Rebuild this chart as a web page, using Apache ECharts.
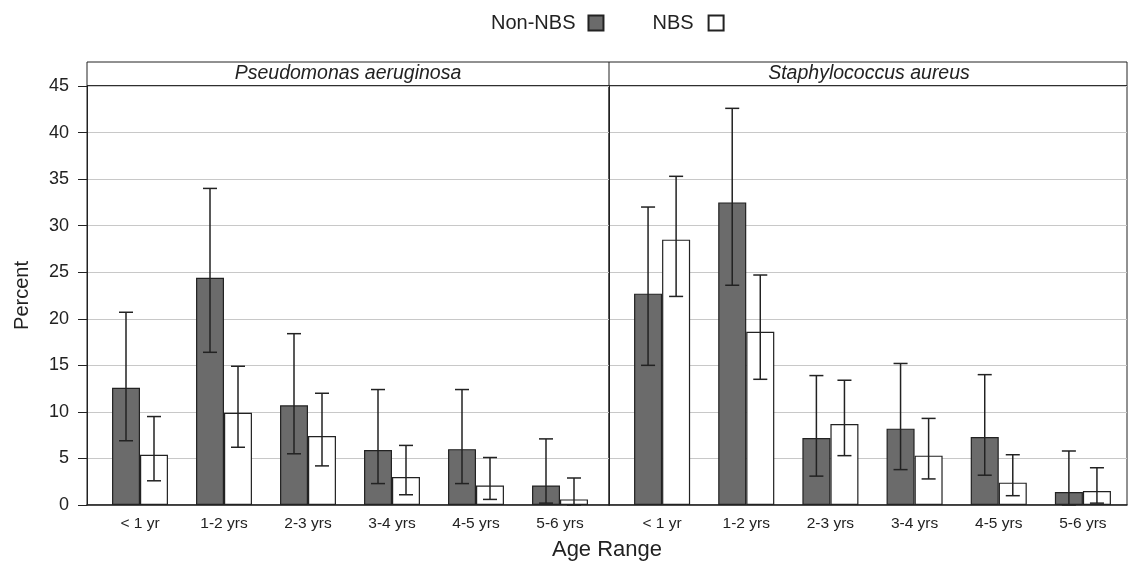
<!DOCTYPE html>
<html>
<head>
<meta charset="utf-8">
<script src="https://cdn.jsdelivr.net/npm/echarts@6/dist/echarts.min.js"></script>
<style>
  html, body { margin: 0; padding: 0; background: #fff; }
  #chart { width: 1130px; height: 565px; }
</style>
</head>
<body>
<div id="chart"></div>
<script>
const ageRanges = ['< 1 yr', '1-2 yrs', '2-3 yrs', '3-4 yrs', '4-5 yrs', '5-6 yrs'];
const panelTitles = ['Pseudomonas aeruginosa', 'Staphylococcus aureus'];

// Pseudomonas aeruginosa
const paNonNbs = [12.6, 24.4, 10.7, 5.9, 6.0, 2.1];
const paNonNbsLow = [6.9, 16.4, 5.5, 2.3, 2.3, 0.2];
const paNonNbsHigh = [20.7, 34.0, 18.4, 12.4, 12.4, 7.1];
const paNbs = [5.4, 9.9, 7.4, 3.0, 2.1, 0.6];
const paNbsLow = [2.6, 6.2, 4.2, 1.1, 0.6, 0];
const paNbsHigh = [9.5, 14.9, 12.0, 6.4, 5.1, 2.9];

// Staphylococcus aureus
const saNonNbs = [22.7, 32.5, 7.2, 8.2, 7.3, 1.4];
const saNonNbsLow = [15.0, 23.6, 3.1, 3.8, 3.2, 0];
const saNonNbsHigh = [32.0, 42.6, 13.9, 15.2, 14.0, 5.8];
const saNbs = [28.5, 18.6, 8.7, 5.3, 2.4, 1.5];
const saNbsLow = [22.4, 13.5, 5.3, 2.8, 1.0, 0.2];
const saNbsHigh = [35.3, 24.7, 13.4, 9.3, 5.4, 4.0];

const FONT = "'Liberation Sans', Arial, sans-serif";
const INK = '#222';
const DARK = '#6b6b6b';

const chart = echarts.init(document.getElementById('chart'));

function errorData(low, high) {
  return low.map((lo, i) => [i, lo, high[i]]);
}

// side: -1 for left bar in pair, +1 for right
function errorRender(side) {
  return function (params, api) {
    const band = api.size([1, 0])[0];
    const lo = api.coord([api.value(0), api.value(1)]);
    const hi = api.coord([api.value(0), api.value(2)]);
    const x = lo[0] + side * band / 6;
    const cap = band / 12;
    const style = { stroke: INK, lineWidth: 1.5 };
    return {
      type: 'group',
      children: [
        { type: 'line', shape: { x1: x, y1: lo[1], x2: x, y2: hi[1] }, style },
        { type: 'line', shape: { x1: x - cap, y1: hi[1], x2: x + cap, y2: hi[1] }, style },
        { type: 'line', shape: { x1: x - cap, y1: lo[1], x2: x + cap, y2: lo[1] }, style }
      ]
    };
  };
}

const frameAxisY = {
  type: 'value', min: 0, max: 45, interval: 5,
  axisLine: { show: true, lineStyle: { color: INK, width: 1 } },
  splitLine: { show: true, lineStyle: { color: '#c8c8c8', width: 1 } }
};

const hiddenY = { type: 'value', min: 0, max: 45, interval: 5, show: false, splitLine: { show: false } };

const barX = {
  type: 'category', data: ageRanges,
  axisLine: { show: false }, axisTick: { show: false },
  axisLabel: { color: INK, fontFamily: FONT, fontSize: 15.5, margin: 11 }
};

const nonNbsStyle = { color: DARK, borderColor: INK, borderWidth: 1.2 };
const nbsStyle = { color: '#fff', borderColor: INK, borderWidth: 1.2 };

const option = {
  animation: false,
  textStyle: { fontFamily: FONT },
  legend: {
    data: [
      { name: 'Non-NBS', textStyle: { padding: [0, 8, 0, 0] } },
      { name: 'NBS', textStyle: { padding: [0, 10, 0, 0] } }
    ],
    top: 8, left: 486,
    align: 'right',
    icon: 'rect',
    itemWidth: 15, itemHeight: 15, itemGap: 48,
    textStyle: { color: INK, fontSize: 20, fontFamily: FONT }
  },
  grid: [
    { left: 87, top: 86, width: 522, height: 419, show: true, borderColor: INK, borderWidth: 1 },
    { left: 609, top: 86, width: 518, height: 419, show: true, borderColor: INK, borderWidth: 1 },
    { left: 98, top: 86, width: 504, height: 419 },
    { left: 620, top: 86, width: 505, height: 419 }
  ],
  xAxis: [
    { gridIndex: 0, type: 'category', data: [], axisLine: { show: true, lineStyle: { color: INK, width: 1.5 } }, axisTick: { show: false }, axisLabel: { show: false } },
    { gridIndex: 1, type: 'category', data: [], axisLine: { show: true, lineStyle: { color: INK, width: 1.5 } }, axisTick: { show: false }, axisLabel: { show: false } },
    Object.assign({ gridIndex: 2 }, barX),
    Object.assign({ gridIndex: 3 }, barX)
  ],
  yAxis: [
    Object.assign({ gridIndex: 0 }, frameAxisY, {
      name: 'Percent', nameLocation: 'middle', nameGap: 55,
      nameTextStyle: { color: INK, fontSize: 20, fontFamily: FONT },
      axisTick: { show: true, inside: false, length: 9, lineStyle: { color: INK } },
      axisLabel: { color: INK, fontSize: 18, fontFamily: FONT, margin: 18 }
    }),
    Object.assign({ gridIndex: 1 }, frameAxisY, { axisTick: { show: false }, axisLabel: { show: false } }),
    Object.assign({ gridIndex: 2 }, hiddenY),
    Object.assign({ gridIndex: 3 }, hiddenY)
  ],
  graphic: [
    { type: 'rect', shape: { x: 87, y: 62, width: 1040, height: 24 }, style: { fill: 'none', stroke: INK, lineWidth: 1 } },
    { type: 'line', shape: { x1: 609, y1: 62, x2: 609, y2: 86 }, style: { stroke: INK, lineWidth: 1 } },
    { type: 'line', shape: { x1: 87, y1: 86, x2: 1127, y2: 86 }, style: { stroke: INK, lineWidth: 1.5 } },
    { type: 'text', x: 348, y: 74, z: 10, style: { text: panelTitles[0], font: 'italic 19.5px ' + FONT, fill: INK, align: 'center', verticalAlign: 'middle' } },
    { type: 'text', x: 869, y: 74, z: 10, style: { text: panelTitles[1], font: 'italic 19.5px ' + FONT, fill: INK, align: 'center', verticalAlign: 'middle' } },
    { type: 'text', x: 607, y: 550, z: 10, style: { text: 'Age Range', font: '22px ' + FONT, fill: INK, align: 'center', verticalAlign: 'middle' } }
  ],
  series: [
    { name: 'Non-NBS', type: 'bar', xAxisIndex: 2, yAxisIndex: 2, data: paNonNbs, barWidth: '33.3%', barGap: '0%', itemStyle: nonNbsStyle },
    { name: 'NBS', type: 'bar', xAxisIndex: 2, yAxisIndex: 2, data: paNbs, barWidth: '33.3%', barGap: '0%', itemStyle: nbsStyle },
    { name: 'Non-NBS', type: 'bar', xAxisIndex: 3, yAxisIndex: 3, data: saNonNbs, barWidth: '33.3%', barGap: '0%', itemStyle: nonNbsStyle },
    { name: 'NBS', type: 'bar', xAxisIndex: 3, yAxisIndex: 3, data: saNbs, barWidth: '33.3%', barGap: '0%', itemStyle: nbsStyle },
    { type: 'custom', xAxisIndex: 2, yAxisIndex: 2, data: errorData(paNonNbsLow, paNonNbsHigh), renderItem: errorRender(-1), encode: { x: 0, y: [1, 2] }, z: 5 },
    { type: 'custom', xAxisIndex: 2, yAxisIndex: 2, data: errorData(paNbsLow, paNbsHigh), renderItem: errorRender(1), encode: { x: 0, y: [1, 2] }, z: 5 },
    { type: 'custom', xAxisIndex: 3, yAxisIndex: 3, data: errorData(saNonNbsLow, saNonNbsHigh), renderItem: errorRender(-1), encode: { x: 0, y: [1, 2] }, z: 5 },
    { type: 'custom', xAxisIndex: 3, yAxisIndex: 3, data: errorData(saNbsLow, saNbsHigh), renderItem: errorRender(1), encode: { x: 0, y: [1, 2] }, z: 5 }
  ]
};

chart.setOption(option);
</script>
</body>
</html>
